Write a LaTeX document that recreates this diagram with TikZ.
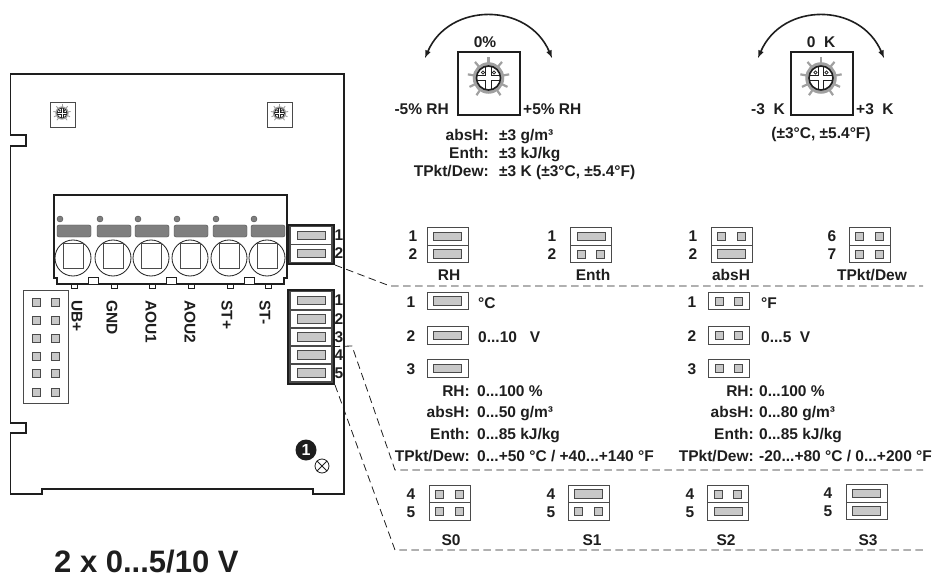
\documentclass[tikz,border=0pt]{standalone}
\usepackage{fontspec}
\setmainfont{Liberation Sans}
\usetikzlibrary{positioning, arrows}

\definecolor{inkdark}{HTML}{1E1E1E}
\definecolor{boxgray}{HTML}{4A4A4A}
\definecolor{pingray}{HTML}{C8C8C8}
\definecolor{bargray}{HTML}{7F7F7F}
\definecolor{toothgray}{HTML}{A0A0A0}

\tikzset{
  txt/.style={font=\fontsize{15.5}{17}\bfseries\selectfont, text=inkdark, inner sep=0pt},
  bigtxt/.style={font=\fontsize{31}{33}\bfseries\selectfont, text=inkdark, inner sep=0pt},
  jmpbox/.style={draw=boxgray, line width=1pt, fill=white, minimum width=41pt, minimum height=17.5pt, inner sep=0pt},
  jmpbar/.style={draw=boxgray, fill=pingray, line width=0.8pt, minimum width=28pt, minimum height=8.5pt, inner sep=0pt},
  jmppin/.style={draw=boxgray, fill=pingray, line width=0.8pt, minimum size=8pt, inner sep=0pt},
  cellbox/.style={draw=boxgray, line width=1.2pt, fill=white, minimum width=42pt, minimum height=18pt, inner sep=0pt},
  board/.style={draw=inkdark, line width=1.5pt},
  dashline/.style={draw=inkdark, line width=0.8pt, dash pattern=on 7.5pt off 4.5pt},
  pics/trimmer/.style={code={
    \begin{scope}[scale=#1]
      \foreach \a in {-90,-50,-130,-10,-170,25,155,55,125} {
        \draw[toothgray, line width=#1*2.2pt] (\a:13) -- (\a:21);
      };
      \draw[toothgray, fill=white, line width=#1*3.5pt] (0,0) circle (14);
      \begin{scope}
        \clip (0,0) circle (12);
        \draw[inkdark, line width=#1*1pt] (-12,-2.8) -- (-2.8,-2.8) -- (-2.8,-12);
        \draw[inkdark, line width=#1*1pt] (12,-2.8) -- (2.8,-2.8) -- (2.8,-12);
        \draw[inkdark, line width=#1*1pt] (-12,2.8) -- (-2.8,2.8) -- (-2.8,12);
        \draw[inkdark, line width=#1*1pt] (12,2.8) -- (2.8,2.8) -- (2.8,12);
      \end{scope}
      \draw[inkdark, line width=#1*1.6pt] (0,0) circle (12);
      \draw[inkdark, line width=#1*0.8pt] (-5.5,-5.5) circle (1.6);
      \draw[inkdark, line width=#1*0.8pt] (5.5,-5.5) circle (1.6);
    \end{scope}
  }}
}

\newcommand{\closedjmp}[2]{%
  \node[jmpbox] (#1) at #2 {};
  \node[jmpbar] (#1bar) at (#1) {};
}
\newcommand{\openjmp}[2]{%
  \node[jmpbox] (#1) at #2 {};
  \node[jmppin] (#1l) at ([xshift=-9.7pt]#1.center) {};
  \node[jmppin] (#1r) at ([xshift=9.7pt]#1.center) {};
}

\begin{document}
\begin{tikzpicture}[x=1pt, y=-1pt, >=latex]
\useasboundingbox (0,0) rectangle (933,577);

% circuit board outline
\draw[board] (10.5,74) -- (344,74) -- (344,494) -- (313,494) -- (313,489) -- (42,489) -- (42,494) -- (10.5,494)
  -- (10.5,433) -- (26,433) -- (26,423) -- (10.5,423) -- (10.5,146) -- (26,146) -- (26,135) -- (10.5,135) -- cycle;

% trimmers on the board
\node[draw=boxgray, line width=0.8pt, minimum size=25pt, inner sep=0pt] (trimA) at (62.5,114.5) {};
\node[draw=boxgray, line width=0.8pt, minimum size=25pt, inner sep=0pt] (trimB) at (279.5,114.5) {};
\pic at (62,113) {trimmer=0.42};
\pic at (279.5,113) {trimmer=0.42};

% terminal block
\draw[board] (54,278) -- (54,195) -- (287,195) -- (287,278) -- (284,278) -- (284,284) -- (57,284) -- (57,278) -- cycle;
\foreach \n/\x in {1/93, 2/171, 3/249} {
    \node[draw=inkdark, line width=1pt, fill=white, minimum width=10pt, minimum height=7pt, inner sep=0pt] (tab\n) at (\x,280.5) {};
};
\foreach \n/\x/\t/\l in {1/73/UB+/77, 2/113/GND/112, 3/151/AOU1/151, 4/190/AOU2/190, 5/229/ST+/227, 6/267/ST-/265} {
    \node[circle, draw=boxgray, fill=bargray, minimum size=6pt, inner sep=0pt] (led\n) at (\x-13,219) {};
    \node[draw=boxgray, fill=bargray, rounded corners=2pt, minimum width=34pt, minimum height=12pt, inner sep=0pt] (lever\n) at (\x+1,231) {};
    \node[circle, draw=inkdark, line width=0.8pt, fill=white, minimum size=36pt, inner sep=0pt] (hole\n) at (\x,258) {};
    \node[draw=boxgray, line width=0.8pt, minimum width=20pt, minimum height=25pt, inner sep=0pt] (clamp\n) at (\x,255.5) {};
    \node[draw=inkdark, line width=0.8pt, fill=white, minimum width=6pt, minimum height=4pt, inner sep=0pt] (foot\n) at (\x+1,286) {};
    \node[txt, rotate=-90, anchor=west] (term\n) at (\l,300) {\t};
};

% pin header
\node[draw=boxgray, line width=0.8pt, minimum width=45pt, minimum height=113pt, inner sep=0pt] (header) at (45.5,346.5) {};
\foreach \n/\y in {1/302, 2/320, 3/338, 4/356, 5/373, 6/392} {
    \node[jmppin] (hpinl\n) at (36,\y) {};
    \node[jmppin] (hpinr\n) at (55,\y) {};
};

% jumper blocks on the board
\node[draw=inkdark, line width=2pt, minimum width=46pt, minimum height=39pt, inner sep=0pt] (blockA) at (311,244.5) {};
\foreach \n/\y in {1/235.5, 2/253.5} {
    \node[cellbox] (cellA\n) at (311,\y) {};
    \node[jmpbar] (barA\n) at (cellA\n) {};
    \node[txt, anchor=base] (numA\n) at (339,\y+5) {\n};
};
\node[draw=inkdark, line width=2pt, minimum width=46pt, minimum height=94pt, inner sep=0pt] (blockB) at (311,337) {};
\foreach \n/\y in {1/300.5, 2/319, 3/337, 4/355, 5/373} {
    \node[cellbox] (cellB\n) at (311,\y) {};
    \node[jmpbar] (barB\n) at (cellB\n) {};
    \node[txt, anchor=base] (numB\n) at (339,\y+5) {\n};
};

% marker and screw
\node[circle, fill=inkdark, minimum size=21pt, inner sep=0pt, font=\fontsize{16}{16}\bfseries\selectfont, text=white] (marker) at (306,450) {1};
\node[circle, draw=inkdark, line width=0.8pt, minimum size=14pt, inner sep=0pt] (screw) at (322,466) {};
\draw[inkdark, line width=0.8pt] (screw.north east) -- (screw.south west);
\draw[inkdark, line width=0.8pt] (screw.north west) -- (screw.south east);

\node[bigtxt, anchor=base west] (title) at (54,572) {2 x 0...5/10 V};

% left trimmer with its range
\node[draw=inkdark, line width=1.2pt, minimum width=62pt, minimum height=63pt, inner sep=0pt] (dialA) at (489,83.5) {};
\pic at (488.5,78) {trimmer=1};
\coordinate (arcAl) at (425,58);
\coordinate (arcAr) at (552,58);
\draw[<->, inkdark, line width=1.6pt] (arcAl) .. controls (449,2) and (528,2) .. (arcAr);
\node[txt, anchor=base] (zeroA) at (485,48) {0\%};
\node[txt, anchor=base east] (minusA) at (449,115) {-5\% RH};
\node[txt, anchor=base west] (plusA) at (523,115) {+5\% RH};
\node[txt, anchor=base east] (keyabs) at (489,141) {absH:};
\node[txt, base right=10pt of keyabs] (valabs) {±3 g/m³};
\node[txt, anchor=base east] (keyenth) at (489,158.5) {Enth:};
\node[txt, base right=10pt of keyenth] (valenth) {±3 kJ/kg};
\node[txt, anchor=base east] (keydew) at (489,177) {TPkt/Dew:};
\node[txt, base right=10pt of keydew] (valdew) {±3 K (±3°C, ±5.4°F)};

% right trimmer with its range
\node[draw=inkdark, line width=1.2pt, minimum width=62pt, minimum height=63pt, inner sep=0pt] (dialB) at (822,83.5) {};
\pic at (821,78) {trimmer=1};
\coordinate (arcBl) at (758,58);
\coordinate (arcBr) at (884,58);
\draw[<->, inkdark, line width=1.6pt] (arcBl) .. controls (782,2) and (860,2) .. (arcBr);
\node[txt, anchor=base] (zeroB) at (821,48) {0\ \ K};
\node[txt, anchor=base east] (minusB) at (785,115) {-3\ \ K};
\node[txt, anchor=base west] (plusB) at (856,115) {+3\ \ K};
\node[txt, anchor=base] (rangeB) at (821,139) {(±3°C, ±5.4°F)};

% output mode jumpers
\closedjmp{rhA}{(447.5,236.5)}
\closedjmp{rhB}{(447.5,254)}
\closedjmp{enA}{(591,236.5)}
\openjmp{enB}{(591,254)}
\openjmp{abA}{(731.5,236.5)}
\closedjmp{abB}{(731.5,254)}
\openjmp{dewA}{(869.5,236.5)}
\openjmp{dewB}{(869.5,254)}
\foreach \n/\x/\a/\b in {1/413/1/2, 2/552/1/2, 3/693/1/2, 4/832/6/7} {
    \node[txt, anchor=base] (modeA\n) at (\x,241) {\a};
    \node[txt, anchor=base] (modeB\n) at (\x,259) {\b};
};
\node[txt, anchor=base] (nameRH) at (449,280) {RH};
\node[txt, anchor=base] (nameEnth) at (593,280) {Enth};
\node[txt, anchor=base] (nameAbs) at (731,280) {absH};
\node[txt, anchor=base] (nameDew) at (872,280) {TPkt/Dew};

% unit, voltage and range jumpers
\closedjmp{leftA}{(447.5,301)}
\closedjmp{leftB}{(447.5,335.5)}
\closedjmp{leftC}{(447.5,368.5)}
\openjmp{rightA}{(729,301)}
\openjmp{rightB}{(729,335.5)}
\openjmp{rightC}{(729,368.5)}
\foreach \n/\y in {1/307, 2/341, 3/374} {
    \node[txt, anchor=base] (numL\n) at (411,\y) {\n};
    \node[txt, anchor=base] (numR\n) at (692,\y) {\n};
};
\node[txt, anchor=base west] (unitC) at (478,308) {°C};
\node[txt, anchor=base west] (unitF) at (761,308) {°F};
\node[txt, anchor=base west] (voltL) at (478,342) {0...10\ \ \ V};
\node[txt, anchor=base west] (voltR) at (761,342) {0...5\ \ V};

\node[txt, anchor=base east] (keyLrh) at (470,396) {RH:};
\node[txt, anchor=base west] (valLrh) at (477,396) {0...100 \%};
\node[txt, anchor=base east] (keyRrh) at (754,396) {RH:};
\node[txt, anchor=base west] (valRrh) at (759,396) {0...100 \%};
\node[txt, anchor=base east] (keyLabs) at (470,417) {absH:};
\node[txt, anchor=base west] (valLabs) at (477,417) {0...50 g/m³};
\node[txt, anchor=base east] (keyRabs) at (754,417) {absH:};
\node[txt, anchor=base west] (valRabs) at (759,417) {0...80 g/m³};
\node[txt, anchor=base east] (keyLenth) at (470,439) {Enth:};
\node[txt, anchor=base west] (valLenth) at (477,439) {0...85 kJ/kg};
\node[txt, anchor=base east] (keyRenth) at (754,439) {Enth:};
\node[txt, anchor=base west] (valRenth) at (759,439) {0...85 kJ/kg};
\node[txt, anchor=base east] (keyLdew) at (470,461) {TPkt/Dew:};
\node[txt, anchor=base west] (valLdew) at (477,461) {0...+50 °C / +40...+140 °F};
\node[txt, anchor=base east] (keyRdew) at (754,461) {TPkt/Dew:};
\node[txt, anchor=base west] (valRdew) at (759,461) {-20...+80 °C / 0...+200 °F};

% signal jumpers
\openjmp{sA}{(449.5,494)}
\openjmp{sB}{(449.5,511.5)}
\closedjmp{sC}{(588.5,494)}
\openjmp{sD}{(588.5,511.5)}
\openjmp{sE}{(728,494)}
\closedjmp{sF}{(728,511.5)}
\closedjmp{sG}{(866.5,493.5)}
\closedjmp{sH}{(866.5,511)}
\foreach \n/\x/\y/\t/\c in {0/411/0/S0/451, 1/551/0/S1/592, 2/690/0/S2/726, 3/828/-1/S3/868} {
    \node[txt, anchor=base] (sigA\n) at (\x,499+\y) {4};
    \node[txt, anchor=base] (sigB\n) at (\x,517+\y) {5};
    \node[txt, anchor=base] (sigN\n) at (\c,545) {\t};
};

% dashed leaders
\coordinate (dashA) at (390,286);
\coordinate (dashAend) at (923,286);
\coordinate (dashB) at (352,346);
\coordinate (dashC) at (395,470);
\coordinate (dashCend) at (923,470);
\coordinate (dashD) at (395,550);
\coordinate (dashDend) at (925,550);
\draw[dashline] (blockA.south east) -- (dashA) -- (dashAend);
\draw[dashline] (cellB3.south east) -- (dashB) -- (dashC) -- (dashCend);
\draw[dashline] (blockB.south east) -- (dashD) -- (dashDend);

\end{tikzpicture}
\end{document}
